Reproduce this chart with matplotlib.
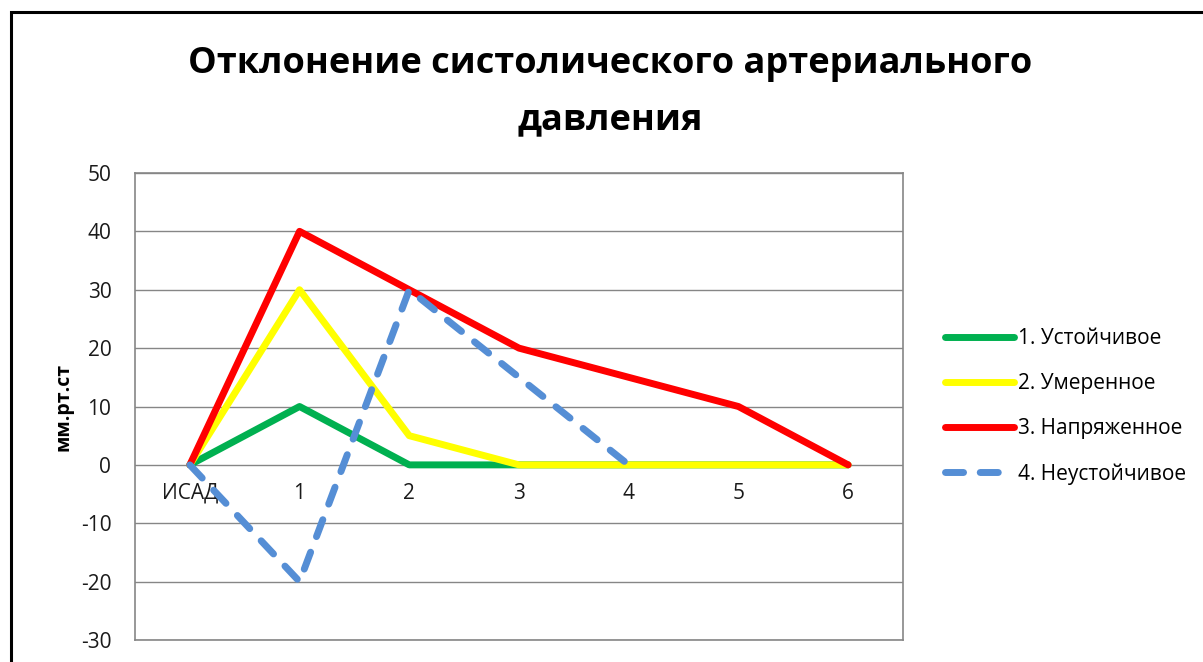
import matplotlib
matplotlib.use('Agg')
import matplotlib.pyplot as plt
from matplotlib.patches import Rectangle

plt.rcParams['font.family'] = ['Open Sans', 'DejaVu Sans']
plt.rcParams['axes.unicode_minus'] = False

categories = ['ИСАД', '1', '2', '3', '4', '5', '6']
ustoich = [0, 10, 0, 0, 0, 0, 0]
umeren = [0, 30, 5, 0, 0, 0, 0]
napryazh = [0, 40, 30, 20, 15, 10, 0]
neustoich = [0, -20, 30, 15, 0]
y_ticks = [-30, -20, -10, 0, 10, 20, 30, 40, 50]

fig = plt.figure(figsize=(12.03, 6.62), dpi=100)
ax = fig.add_axes([0.1122, 0.0332, 0.6384, 0.7055])

x = list(range(len(categories)))
ax.plot(x, ustoich, color='#00B050', lw=5, solid_capstyle='round', label='1. Устойчивое', zorder=3)
ax.plot(x, umeren, color='#FFFF00', lw=5, solid_capstyle='round', label='2. Умеренное', zorder=4)
ax.plot(x, napryazh, color='#FF0000', lw=5, solid_capstyle='round', label='3. Напряженное', zorder=5)
ax.plot(x[:len(neustoich)], neustoich, color='#558ED5', lw=5, dashes=(2.6, 2.4),
        dash_capstyle='round', label='4. Неустойчивое', zorder=6)

ax.set_xlim(-0.5, 6.5)
ax.set_ylim(-30, 50)
ax.set_yticks(y_ticks)
ax.tick_params(axis='y', length=0, pad=17, labelsize=15, labelcolor='#1a1a1a')
ax.set_xticks([])
ax.grid(axis='y', color='#868686', lw=1)
ax.set_axisbelow(True)
for s in ax.spines.values():
    s.set_color('#868686')
    s.set_linewidth(1.2)

# category labels sit under the zero line
sec = ax.secondary_xaxis(30 / 80)
sec.set_xticks(x)
sec.set_xticklabels(categories)
sec.tick_params(length=0, pad=13, labelsize=15, labelcolor='#1a1a1a')
sec.spines['bottom'].set_visible(False)

ax.set_ylabel('мм.рт.ст', fontsize=14, fontweight='bold', labelpad=5)

fig.text(0.507, 0.903, 'Отклонение систолического артериального', ha='center', va='center',
         fontsize=26, fontweight='bold')
fig.text(0.507, 0.819, 'давления', ha='center', va='center', fontsize=26, fontweight='bold')

leg = ax.legend(loc='center left', bbox_to_anchor=(1.03, 0.5), frameon=False, fontsize=15,
                handlelength=3.3, handletextpad=0.2, labelspacing=1.15)

fig.patches.append(Rectangle((11 / 1203, -0.1), 1.2, 1 - 12 / 662 + 0.1, transform=fig.transFigure,
                             fill=False, edgecolor='black', lw=2.2))

fig.savefig('out.png', dpi=100)
